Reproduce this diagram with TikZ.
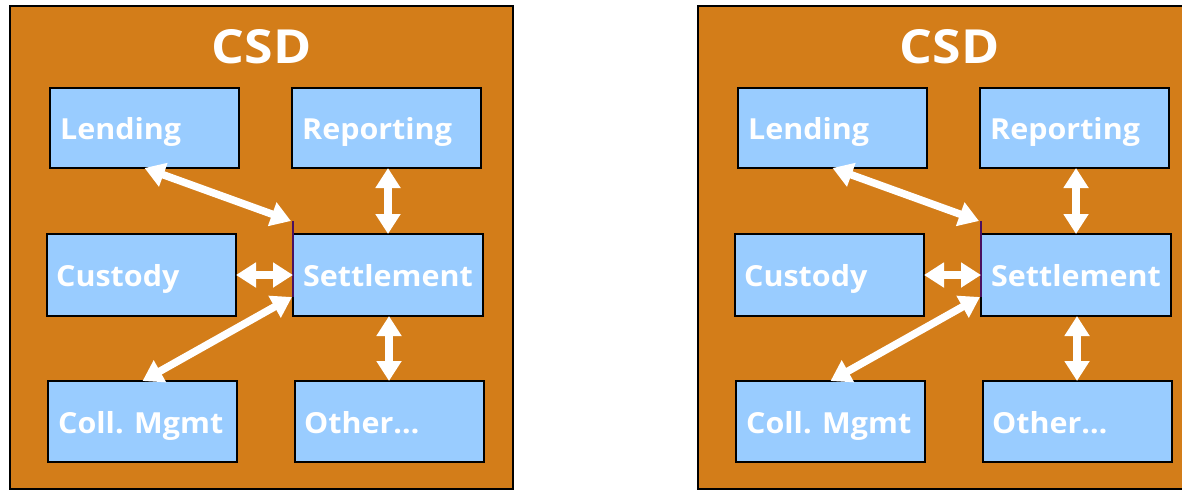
\documentclass[tikz,border=0pt]{standalone}
\usepackage{fontspec}
\newfontfamily\lblfont[FakeStretch=1.05]{Open Sans}
\newfontfamily\ttlfont[FakeStretch=1.1]{Open Sans}
\usetikzlibrary{arrows.meta,calc}
\definecolor{csdorange}{HTML}{D37D19}
\definecolor{boxblue}{HTML}{99CCFF}
\definecolor{edgepurple}{HTML}{4A1060}
\begin{document}
\begin{tikzpicture}[x=1pt,y=-1pt,
 panel/.style={draw=black,line width=1.5pt,fill=csdorange},
 box/.style={draw=black,line width=1.5pt,fill=boxblue,inner sep=0pt,outer sep=0pt},
 lbl/.style={text=white,font=\lblfont\bfseries\fontsize{29}{29}\selectfont,anchor=base west,inner sep=0pt},
 title/.style={text=white,font=\ttlfont\bfseries\fontsize{47}{47}\selectfont,anchor=base,inner sep=0pt},
 link/.style={draw=white,line width=7.5pt,{Triangle[width=24pt,length=20pt]}-{Triangle[width=24pt,length=20pt]}}]
\useasboundingbox (0,0) rectangle (1182,490);
\fill[white] (0,0) rectangle (1182,490);
\clip (0,0) rectangle (1182,490);
\foreach \p/\dx in {L/0,R/688} {
 \begin{scope}[xshift=\dx pt]
  \path[panel] (10,6) rectangle (513,489);
  \node[title] (\p-title) at (261.5,63) {CSD};
  \node[box,minimum width=189pt,minimum height=80pt] (\p-lend) at (144.5,128) {};
  \node[box,minimum width=189pt,minimum height=80pt] (\p-rep) at (386.5,128) {};
  \node[box,minimum width=189pt,minimum height=82pt] (\p-cust) at (141.5,275) {};
  \node[box,minimum width=190pt,minimum height=82pt] (\p-settle) at (388,275) {};
  \node[box,minimum width=189pt,minimum height=81pt] (\p-coll) at (142.5,421.5) {};
  \node[box,minimum width=189pt,minimum height=81pt] (\p-other) at (389.5,421.5) {};
  \node[lbl] (\p-lendt) at (60,139) {Lending};
  \node[lbl] (\p-rept) at (302,139) {Reporting};
  \node[lbl] (\p-custt) at (56,286) {Custody};
  \node[lbl] (\p-settlet) at (303,286) {Settlement};
  \node[lbl] (\p-collt) at (58,433) {Coll. Mgmt};
  \node[lbl] (\p-othert) at (304,433) {Other…};
  \draw[edgepurple,line width=1.5pt] ($(\p-settle.north west)+(0,-13)$) -- ($(\p-settle.west)+(0,22)$);
  \draw[link] (\p-lend.south) -- ($(\p-settle.north west)+(-2,-13)$);
  \draw[link] ([xshift=1.5pt]\p-rep.south) -- (\p-settle.north);
  \draw[link] (\p-cust.east) -- (\p-settle.west);
  \draw[link] ($(\p-settle.west)+(-1,22)$) -- (\p-coll.north);
  \draw[link] ([xshift=1pt]\p-settle.south) -- ([xshift=1pt]\p-settle.south |- \p-other.north);
 \end{scope}
}
\end{tikzpicture}
\end{document}
